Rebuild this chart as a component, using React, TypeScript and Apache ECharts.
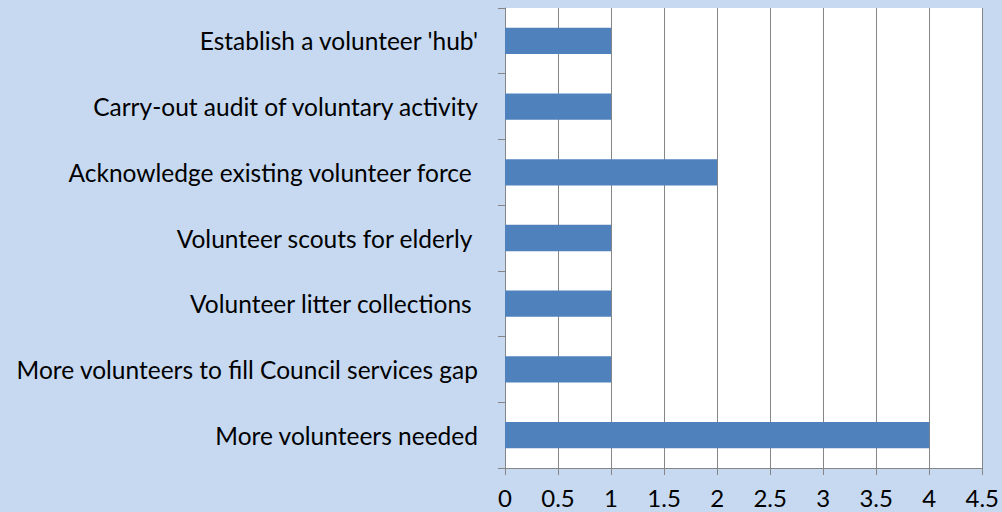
import React, { useEffect, useRef } from "react";
import * as echarts from "echarts";

const categories = [
  "More volunteers needed",
  "More volunteers to fill Council services gap",
  "Volunteer litter collections ",
  "Volunteer scouts for elderly ",
  "Acknowledge existing volunteer force ",
  "Carry-out audit of voluntary activity",
  "Establish a volunteer 'hub'",
];
const values = [4, 1, 1, 1, 2, 1, 1];
const xMin = 0;
const xMax = 4.5;
const xStep = 0.5;

export default function App() {
  const ref = useRef<HTMLDivElement>(null);
  useEffect(() => {
    if (!ref.current) return;
    const chart = echarts.init(ref.current, undefined, { renderer: "svg" });
    const font = "Lato, 'Open Sans', sans-serif";
    chart.setOption({
      animation: false,
      backgroundColor: "#c6d9f1",
      grid: {
        left: 505,
        right: 19,
        top: 8,
        bottom: 44,
        show: true,
        backgroundColor: "#ffffff",
        borderWidth: 0,
      },
      xAxis: {
        type: "value",
        min: xMin,
        max: xMax,
        interval: xStep,
        axisLine: { show: true, lineStyle: { color: "#868686", width: 1 } },
        axisTick: { show: true, length: 7, lineStyle: { color: "#868686" } },
        splitLine: { show: true, lineStyle: { color: "#868686", width: 1 } },
        axisLabel: {
          color: "#000",
          fontSize: 24,
          lineHeight: 20,
          fontFamily: font,
          margin: 19,
          formatter: (v: number) => String(v),
        },
      },
      yAxis: {
        type: "category",
        data: categories,
        axisLine: { show: true, lineStyle: { color: "#868686", width: 1 } },
        axisTick: { show: true, length: 7, lineStyle: { color: "#868686" } },
        axisLabel: {
          color: "#000",
          fontSize: 24.5,
          fontFamily: font,
          margin: 27,
        },
      },
      series: [
        {
          type: "bar",
          data: values,
          barCategoryGap: "60%",
          itemStyle: { color: "#4f81bd" },
        },
      ],
    });
    return () => chart.dispose();
  }, []);
  return (
    <div
      ref={ref}
      style={{ position: "fixed", left: 0, top: 0, width: 1002, height: 512 }}
    />
  );
}
